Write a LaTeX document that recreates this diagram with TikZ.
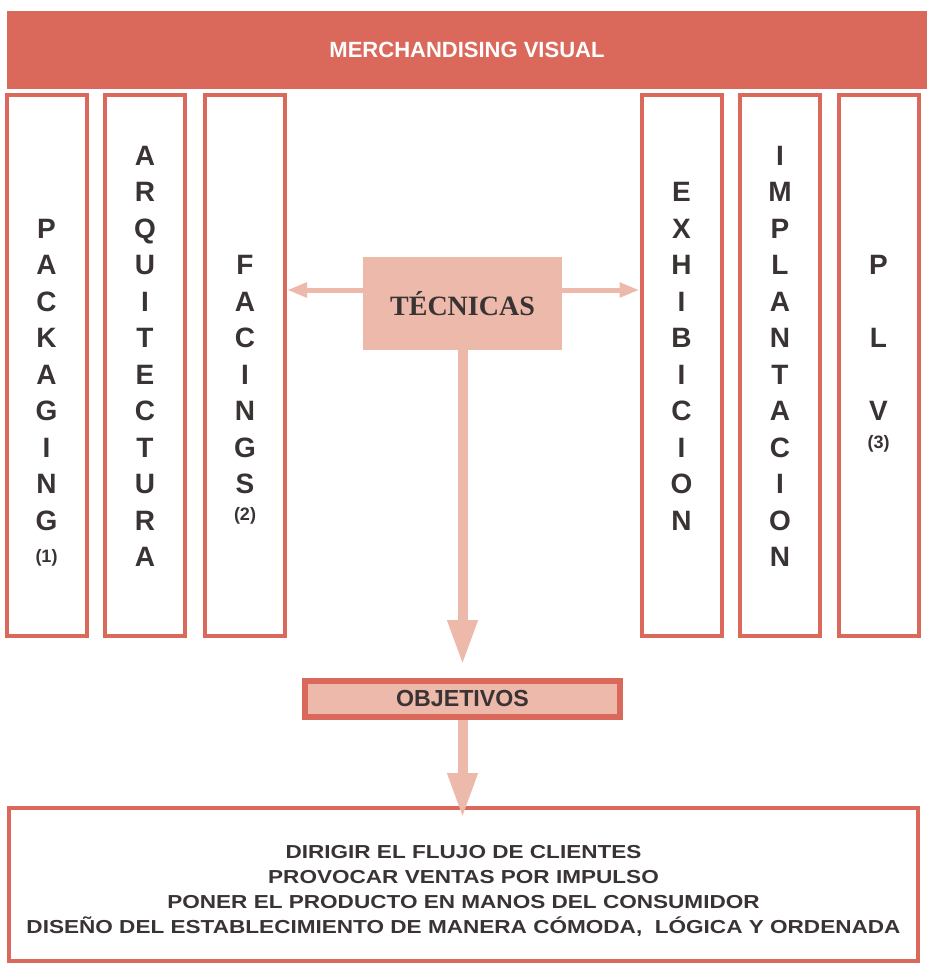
\documentclass[tikz,border=0pt]{standalone}
\usepackage{fontspec}
\setmainfont{Liberation Sans}
\newfontfamily\serifbold{Liberation Serif}
\newfontfamily\ancha[FakeStretch=1.2]{Liberation Sans}
\usepackage{tikz}
\usetikzlibrary{positioning}
\usetikzlibrary{arrows.meta}

\definecolor{rojo}{RGB}{218,105,91}
\definecolor{salmon}{RGB}{236,185,171}
\definecolor{tinta}{RGB}{58,51,51}

\tikzset{
	columna/.style={draw=rojo, line width=2pt, minimum width=40pt, minimum height=270.5pt, inner sep=0pt},
	letra/.style={font=\fontsize{14}{16}\selectfont\bfseries, text=tinta, inner sep=0pt, text height=10pt, text depth=0pt},
	nota/.style={font=\fontsize{9}{10}\selectfont\bfseries, text=tinta, inner sep=0pt},
	banda/.style={fill=rojo, minimum width=460pt, minimum height=39pt, inner sep=0pt, text=white, font=\fontsize{11}{13}\selectfont\bfseries},
	flechaH/.style={draw=salmon, line width=2.5pt, -{Triangle[length=10pt, width=7pt]}},
	flechaV/.style={draw=salmon, line width=5pt, -{Triangle[length=22.5pt, width=14pt]}},
}

\begin{document}
\begin{tikzpicture}[x=0.5pt, y=-0.5pt]
	
	% ------------------------------------------------
	% Page size in pixels of the original figure
	\useasboundingbox (0,0) rectangle (927,964);
	
	% ------------------------------------------------
	% Title bar
	\node[banda] (titulo) at (467,50) {MERCHANDISING VISUAL};
	
	% ------------------------------------------------
	% The six columns
	\node[columna] (packaging)    at (46.5,365.5) {};
	\node[columna] (arquitectura) at (145,365.5)  {};
	\node[columna] (facings)      at (245,365.5)  {};
	\node[columna] (exhibicion)   at (681.5,365.5) {};
	\node[columna] (implantacion) at (780,365.5)  {};
	\node[columna] (plv)          at (878.5,365.5) {};
	
	% Letters, one row every 36.5px starting at y=155
	\foreach \l [count=\i from 2] in {P,A,C,K,A,G,I,N,G}
		\node[letra] (pk-\i) at (46.5,155+36.5*\i) {\l};
	\node[nota] (nota1) at (46.5,558) {(1)};
	
	\foreach \l [count=\i from 0] in {A,R,Q,U,I,T,E,C,T,U,R,A}
		\node[letra] (ar-\i) at (145,155+36.5*\i) {\l};
	
	\foreach \l [count=\i from 3] in {F,A,C,I,N,G,S}
		\node[letra] (fa-\i) at (245,155+36.5*\i) {\l};
	\node[nota] (nota2) at (245,516) {(2)};
	
	\foreach \l [count=\i from 1] in {E,X,H,I,B,I,C,I,O,N}
		\node[letra] (ex-\i) at (681.5,155+36.5*\i) {\l};
	
	\foreach \l [count=\i from 0] in {I,M,P,L,A,N,T,A,C,I,O,N}
		\node[letra] (im-\i) at (780,155+36.5*\i) {\l};
	
	\foreach \l [count=\i from 0] in {P,L,V}
		\node[letra] (pl-\i) at (878.5,264.5+73*\i) {\l};
	\node[nota] (nota3) at (878.5,444) {(3)};
	
	% ------------------------------------------------
	% Centre boxes
	\node[fill=salmon, minimum width=99.5pt, minimum height=46.5pt, inner sep=0pt,
		font=\fontsize{14}{16}\serifbold\bfseries, text=tinta] (tecnicas) at (462.5,303.5) {TÉCNICAS};
	
	\node[fill=salmon, draw=rojo, line width=3pt, minimum width=157.5pt, minimum height=18pt, inner sep=0pt,
		font=\fontsize{11.6}{14}\selectfont\bfseries, text=tinta] (objetivos) at (462.5,699) {OBJETIVOS};
	
	\node[draw=rojo, line width=2pt, minimum width=454.5pt, minimum height=76.5pt, inner sep=0pt] (metas) at (463.5,884.5) {};
	\node[align=center, inner sep=0pt, text=tinta, font=\fontsize{9.4}{12.4}\ancha\bfseries] (lista) at (463.5,891)
		{DIRIGIR EL FLUJO DE CLIENTES\\
		 PROVOCAR VENTAS POR IMPULSO\\
		 PONER EL PRODUCTO EN MANOS DEL CONSUMIDOR\\
		 DISEÑO DEL ESTABLECIMIENTO DE MANERA CÓMODA,\ \ LÓGICA Y ORDENADA};
	
	% ------------------------------------------------
	% Arrows
	\coordinate (tecIzq) at ([yshift=6.75pt]tecnicas.west);
	\coordinate (tecDer) at ([yshift=6.75pt]tecnicas.east);
	\draw[flechaH] (tecIzq) -- (tecIzq -| facings.east);
	\draw[flechaH] (tecDer) -- (tecDer -| exhibicion.west);
	
	\coordinate (puntaObj)   at (462.5,665);
	\coordinate (puntaMetas) at (462.5,818);
	\draw[flechaV] (tecnicas.south) -- (puntaObj);
	\draw[flechaV] (objetivos.south -| puntaMetas) -- (puntaMetas);
	
\end{tikzpicture}
\end{document}
